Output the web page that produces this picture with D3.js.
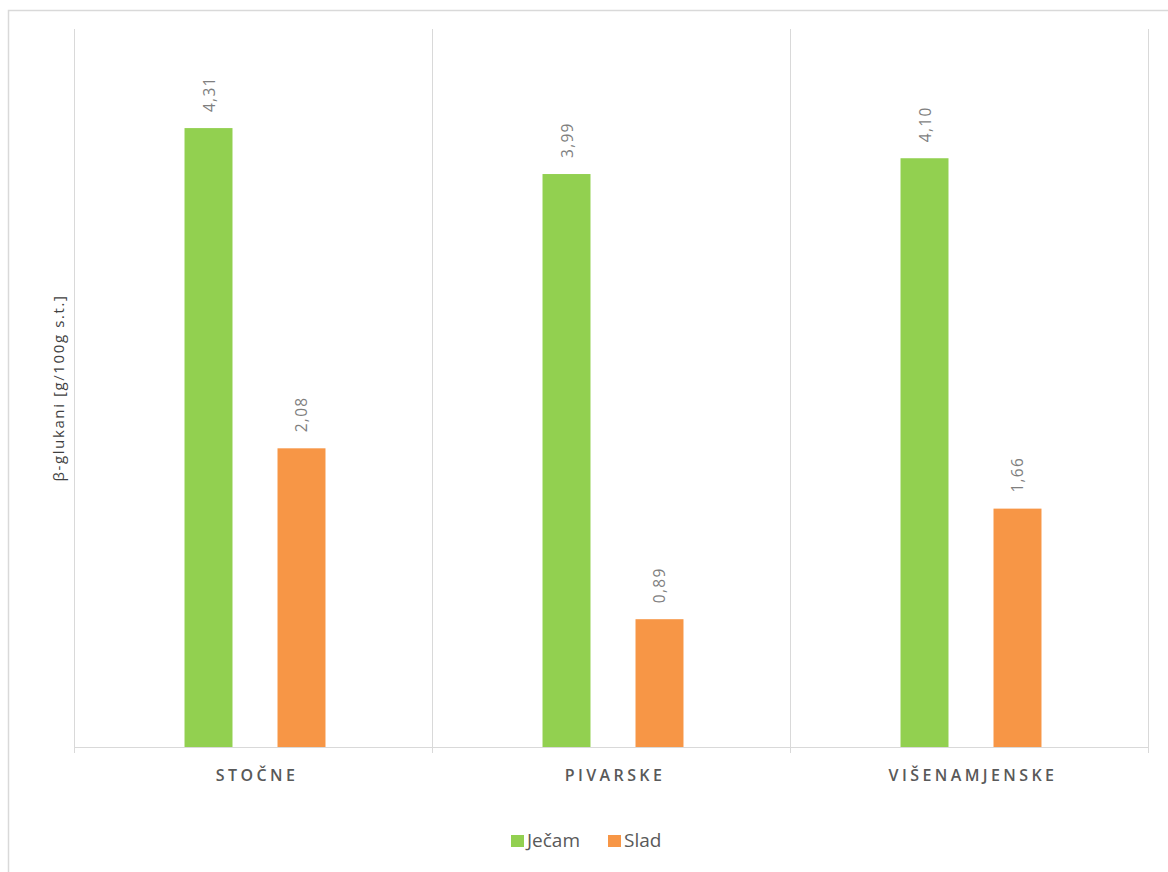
<!DOCTYPE html>
<meta charset="utf-8">
<head>
  <title>β-glukani</title>
</head>
<style>
body { margin: 0; background: #fff; }
svg { font-family: "Open Sans", "DejaVu Sans", sans-serif; }
.frame { fill: none; stroke: #d9d9d9; stroke-width: 1.5; }
.grid line { stroke: #d9d9d9; stroke-width: 1; }
.val { fill: #7f7f7f; font-size: 15.5px; letter-spacing: 1.3px; }
.cat { fill: #595959; font-size: 16px; font-weight: 600; letter-spacing: 3.4px; }
.ytitle { fill: #404040; font-size: 15px; letter-spacing: 1.6px; }
.leg { fill: #595959; font-size: 19px; }
</style>
<body>
<svg width="1168" height="872"></svg>
<script src="https://cdnjs.cloudflare.com/ajax/libs/d3/7.8.5/d3.min.js"></script>
<script>
// data
var categories = ["STOČNE", "PIVARSKE", "VIŠENAMJENSKE"];
var seriesNames = ["Ječam", "Slad"];
var jecam = [4.31, 3.99, 4.10];
var slad = [2.08, 0.89, 1.66];
var labels = [["4,31", "3,99", "4,10"], ["2,08", "0,89", "1,66"]];
var colors = ["#92D050", "#F79646"];

var svg = d3.select("svg");

// outer chart frame (right/bottom are off the picture)
svg.append("path").attr("class", "frame")
    .attr("d", "M8.5,872V10.5H1168");

var plotLeft = 74, plotRight = 1148, plotTop = 29, base = 747;

var x0 = d3.scaleBand().domain(categories).range([plotLeft, plotRight]).padding(0);
var x1 = d3.scaleBand().domain(seriesNames).range([2, x0.bandwidth() + 2])
    .paddingInner(0.484).paddingOuter(1.167);
var y = d3.scaleLinear().domain([0, 5]).range([base, plotTop]);

// vertical category separators
var grid = svg.append("g").attr("class", "grid");
var edges = categories.map(function (c) { return x0(c); }).concat([plotRight]);
grid.selectAll("line").data(edges).enter().append("line")
    .attr("x1", function (d) { return d + 0.5; })
    .attr("x2", function (d) { return d + 0.5; })
    .attr("y1", plotTop).attr("y2", base + 6);
grid.append("line")
    .attr("x1", plotLeft).attr("x2", plotRight + 1)
    .attr("y1", base + 0.5).attr("y2", base + 0.5);

var rows = categories.map(function (c, i) {
    return { cat: c, i: i, vals: [jecam[i], slad[i]] };
});

var groups = svg.selectAll("g.cg").data(rows).enter().append("g")
    .attr("class", "cg")
    .attr("transform", function (d) { return "translate(" + x0(d.cat) + ",0)"; });

function items(d) {
    return d.vals.map(function (v, s) { return { v: v, s: s, i: d.i }; });
}

groups.selectAll("rect").data(items).enter().append("rect")
    .attr("x", function (d) { return x1(seriesNames[d.s]); })
    .attr("width", x1.bandwidth())
    .attr("y", function (d) { return y(d.v); })
    .attr("height", function (d) { return base - y(d.v); })
    .attr("fill", function (d) { return colors[d.s]; });

groups.selectAll("text.val").data(items).enter().append("text")
    .attr("class", "val")
    .attr("transform", function (d) {
        var cx = x1(seriesNames[d.s]) + x1.bandwidth() / 2 + 6;
        return "translate(" + cx + "," + (y(d.v) - 16) + ") rotate(-90)";
    })
    .text(function (d) { return labels[d.s][d.i]; });

// category labels
svg.selectAll("text.cat").data(categories).enter().append("text")
    .attr("class", "cat")
    .attr("x", function (d) { return x0(d) + x0.bandwidth() / 2 + 4; })
    .attr("y", 781)
    .attr("text-anchor", "middle")
    .text(function (d) { return d; });

// y axis title
svg.append("text").attr("class", "ytitle")
    .attr("transform", "translate(64," + ((plotTop + base) / 2) + ") rotate(-90)")
    .attr("text-anchor", "middle")
    .text("β-glukani [g/100g s.t.]");

// legend
var legend = svg.append("g").attr("transform", "translate(511,835)");
var legX = [0, 97];
seriesNames.forEach(function (n, i) {
    legend.append("rect").attr("x", legX[i]).attr("y", 0)
        .attr("width", 13).attr("height", 12).attr("fill", colors[i]);
    legend.append("text").attr("class", "leg")
        .attr("x", legX[i] + 16).attr("y", 12).text(n);
});
</script>
</body>
</html>
